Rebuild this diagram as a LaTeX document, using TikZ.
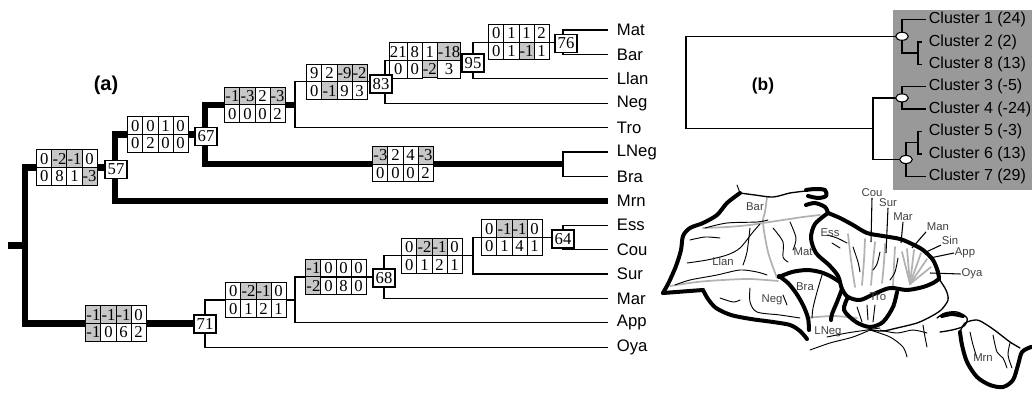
\documentclass[tikz,border=0pt]{standalone}
\usepackage{fontspec}
\setmainfont{Liberation Serif}
\newfontfamily\lsans{Liberation Sans}
\usetikzlibrary{matrix,shapes.geometric}
\begin{document}
\begin{tikzpicture}[x=0.75pt,y=-0.75pt,
  thn/.style={line width=0.95pt},
  thk/.style={line width=4.8pt},
  cell/.style={draw,line width=0.75pt,fill=white,minimum width=11.3pt,minimum height=13.2pt,inner sep=0pt,font=\fontsize{12.5}{12.5}\selectfont},
  neg/.style={fill=black!22},
  cbox/.style={matrix of nodes,nodes={cell},column sep=-0.75pt,row sep=-0.75pt,inner sep=0pt},
  nlab/.style={draw,line width=0.8pt,fill=white,minimum width=16.5pt,minimum height=13.5pt,inner sep=0.5pt,font=\fontsize{12.5}{12.5}\selectfont},
  leaf/.style={anchor=west,inner xsep=6.5pt,inner ysep=0pt,font=\lsans\fontsize{12.5}{12.5}\selectfont},
  clab/.style={anchor=west,inner xsep=2pt,inner ysep=0pt,font=\lsans\fontsize{12}{12}\selectfont},
  oval/.style={ellipse,draw,fill=white,line width=0.8pt,minimum width=9.5pt,minimum height=6pt,inner sep=0pt},
  bl/.style={line width=0.95pt},
  mthk/.style={line width=3pt,line join=round,line cap=round},
  mgray/.style={line width=1.3pt,black!30,line join=round,line cap=round},
  riv/.style={line width=0.7pt,line join=round,line cap=round},
  coast/.style={line width=1pt,line join=round,line cap=round},
  mlab/.style={font=\lsans\fontsize{8.5}{8.5}\selectfont,text=black!75,inner sep=0.5pt},
  leader/.style={line width=0.8pt},
  ptitle/.style={font=\lsans\bfseries\fontsize{15}{15}\selectfont}
]
\useasboundingbox (0,0) rectangle (1032,396);

% ---------------- panel (a) ----------------
\node[ptitle] (la) at (106,85) {(a)};

% leaves
\node[leaf] (Mat)  at (608,30)    {Mat};
\node[leaf] (Bar)  at (608,54.4)  {Bar};
\node[leaf] (Llan) at (608,78.8)  {Llan};
\node[leaf] (Neg)  at (608,103.2) {Neg};
\node[leaf] (Tro)  at (608,127.6) {Tro};
\node[leaf] (LNeg) at (608,152)   {LNeg};
\node[leaf] (Bra)  at (608,176.4) {Bra};
\node[leaf] (Mrn)  at (608,200.8) {Mrn};
\node[leaf] (Ess)  at (608,225.2) {Ess};
\node[leaf] (Cou)  at (608,249.6) {Cou};
\node[leaf] (Sur)  at (608,274)   {Sur};
\node[leaf] (Mar)  at (608,298.4) {Mar};
\node[leaf] (App)  at (608,322.8) {App};
\node[leaf] (Oya)  at (608,347.2) {Oya};

% internal junctions
\coordinate (stub) at (8,245.6);
\coordinate (root) at (25,245.6);
\coordinate (n57)  at (115,167.6);
\coordinate (n67)  at (205,134.5);
\coordinate (n295) at (295,104.7);
\coordinate (n83)  at (385,81.8);
\coordinate (n95)  at (473,60.4);
\coordinate (n76)  at (563,42.2);
\coordinate (nLB)  at (563,164.2);
\coordinate (n71)  at (205,323.6);
\coordinate (nB)   at (295,299.9);
\coordinate (n68)  at (384,277);
\coordinate (nC)   at (473,255.7);
\coordinate (n64)  at (563,237.4);

% thick branches
\draw[thk] (stub) -- (root);
\draw[thk] (root) |- (n57);
\draw[thk] (root) |- (n71);
\draw[thk] (n57) |- (n67);
\draw[thk] (n57) |- (Mrn.west);
\draw[thk] (n67) |- (n295);
\draw[thk] (n67) |- (nLB);
% thin branches
\draw[thn] (n295) |- (n83);
\draw[thn] (n295) |- (Tro.west);
\draw[thn] (n83) |- (n95);
\draw[thn] (n83) |- (Neg.west);
\draw[thn] (n95) |- (n76);
\draw[thn] (n95) |- (Llan.west);
\draw[thn] (n76) |- (Mat.west);
\draw[thn] (n76) |- (Bar.west);
\draw[thn] (nLB) |- (LNeg.west);
\draw[thn] (nLB) |- (Bra.west);
\draw[thn] (n71) |- (nB);
\draw[thn] (n71) |- (Oya.west);
\draw[thn] (nB) |- (n68);
\draw[thn] (nB) |- (App.west);
\draw[thn] (n68) |- (nC);
\draw[thn] (n68) |- (Mar.west);
\draw[thn] (nC) |- (n64);
\draw[thn] (nC) |- (Sur.west);
\draw[thn] (n64) |- (Ess.west);
\draw[thn] (n64) |- (Cou.west);

% character boxes
\matrix (b1) [cbox] at (67,167.6) {0 & |[neg]|-2 & |[neg]|-1 & 0\\ 0 & 8 & 1 & |[neg]|-3\\};
\matrix (b2) [cbox] at (158,134.5) {0 & 0 & 1 & 0\\ 0 & 2 & 0 & 0\\};
\matrix (b3) [cbox] at (255,104.7) {|[neg]|-1 & |[neg]|-3 & 2 & |[neg]|-3\\ 0 & 0 & 0 & 2\\};
\matrix (b4) [cbox] at (337,81.8) {9 & 2 & |[neg]|-9 & |[neg]|-2\\ 0 & |[neg]|-1 & 9 & 3\\};
\matrix (b5) [cbox,column 1/.style={nodes={minimum width=13.5pt}},column 4/.style={nodes={minimum width=17.5pt}}] at (425,60.4) {21 & 8 & 1 & |[neg]|-18\\ 0 & 0 & |[neg]|-2 & 3\\};
\matrix (b6) [cbox] at (519,42.2) {0 & 1 & 1 & 2\\ 0 & 1 & |[neg]|-1 & 1\\};
\matrix (b7) [cbox] at (403,164.2) {|[neg]|-3 & 2 & 4 & |[neg]|-3\\ 0 & 0 & 0 & 2\\};
\matrix (b8) [cbox] at (116,323.6) {|[neg]|-1 & |[neg]|-1 & |[neg]|-1 & 0\\ |[neg]|-1 & 0 & 6 & 2\\};
\matrix (b9) [cbox] at (256,299.9) {0 & |[neg]|-2 & |[neg]|-1 & 0\\ 0 & 1 & 2 & 1\\};
\matrix (b10) [cbox] at (336,277) {|[neg]|-1 & 0 & 0 & 0\\ |[neg]|-2 & 0 & 8 & 0\\};
\matrix (b11) [cbox] at (432,255.7) {0 & |[neg]|-2 & |[neg]|-1 & 0\\ 0 & 1 & 2 & 1\\};
\matrix (b12) [cbox] at (512,237.4) {0 & |[neg]|-1 & |[neg]|-1 & 0\\ 0 & 1 & 4 & 1\\};

% node support labels
\node[nlab] (s57) at (116,169.5) {57};
\node[nlab] (s67) at (206,136.5) {67};
\node[nlab] (s83) at (381,84) {83};
\node[nlab] (s95) at (473,63) {95};
\node[nlab] (s76) at (566,43.5) {76};
\node[nlab] (s71) at (205,324) {71};
\node[nlab] (s68) at (384,278) {68};
\node[nlab] (s64) at (563,239) {64};

% ---------------- panel (b) ----------------
\fill[black!40] (893,10) rectangle (1032,190);
\node[ptitle,font=\lsans\bfseries\fontsize{13}{13}\selectfont] (lb) at (763,86) {(b)};
\node[clab] (c1) at (926,19.5)  {Cluster 1 (24)};
\node[clab] (c2) at (926,41.9)  {Cluster 2 (2)};
\node[clab] (c8) at (926,64.3)  {Cluster 8 (13)};
\node[clab] (c3) at (926,86.7)  {Cluster 3 (-5)};
\node[clab] (c4) at (926,109.1) {Cluster 4 (-24)};
\node[clab] (c5) at (926,131.5) {Cluster 5 (-3)};
\node[clab] (c6) at (926,153.9) {Cluster 6 (13)};
\node[clab] (c7) at (926,176.3) {Cluster 7 (29)};

\coordinate (pA) at (902,36.3);
\coordinate (pB) at (902,97.9);
\coordinate (pC) at (906,159.5);
\coordinate (bRt) at (686,36.3);
\coordinate (bRb) at (686,128.7);
\coordinate (bM) at (873,128.7);
\coordinate (kA) at (918,53.1);
\coordinate (kC) at (918,142.7);
\coordinate (t2) at (922,41.9);
\coordinate (t8) at (922,64.3);
\coordinate (t5) at (922,131.5);
\coordinate (t6) at (922,153.9);

\draw[bl] (pA) -- (bRt) -- (bRb) -- (bM);
\draw[bl] (bM) |- (pB);
\draw[bl] (bM) |- (pC);
\draw[bl] (pA) |- (c1.west);
\draw[bl] (pA) |- (kA);
\draw[bl] (kA) |- (t2);
\draw[bl] (kA) |- (t8);
\draw[bl] (pB) |- (c3.west);
\draw[bl] (pB) |- (c4.west);
\draw[bl] (pC) |- (kC);
\draw[bl] (pC) |- (c7.west);
\draw[bl] (kC) |- (t5);
\draw[bl] (kC) |- (t6);
\node[oval] (oA) at (pA) {};
\node[oval] (oB) at (pB) {};
\node[oval] (oC) at (pC) {};

% ---------------- map ----------------
% gray sub-basin boundaries
\draw[mgray] plot[smooth,tension=0.5] coordinates {(703,228) (727,227) (750,225) (763,223) (783,220) (803,217) (820,215)};
\draw[mgray] plot[smooth,tension=0.5] coordinates {(767,197) (765,212) (763,223) (768,252) (777,278)};
\draw[mgray] plot[smooth,tension=0.5] coordinates {(670,286) (697,282) (723,280) (750,279) (778,281)};
\draw[mgray] plot[smooth,tension=0.5] coordinates {(806,318) (833,316) (857,318)};
\draw[mgray] plot[smooth,tension=0.5] coordinates {(848,234) (851,260) (855,287)};
\draw[mgray] plot[smooth,tension=0.5] coordinates {(865,239) (864,260) (862,285)};
\draw[mgray] plot[smooth,tension=0.5] coordinates {(875,242) (873,262) (871,285)};
\draw[mgray] plot[smooth,tension=0.5] coordinates {(885,244) (884,262) (882,283)};
\draw[mgray] plot[smooth,tension=0.5] coordinates {(895,247) (894,265) (893,286)};
\draw[mgray] (910,284) -- (902,252);
\draw[mgray] (910,284) -- (907,249);
\draw[mgray] (910,284) -- (914,250);
\draw[mgray] (910,284) -- (921,253);
\draw[mgray] (910,284) -- (927,259);
\draw[mgray] (910,284) -- (931,267);

% thin rivers
\draw[riv] plot[smooth,tension=0.5] coordinates {(705,228) (727,223) (757,222) (768,220)};
\draw[riv] plot[smooth,tension=0.5] coordinates {(687,263) (707,260) (727,255) (740,248) (753,232) (760,224)};
\draw[riv] plot[smooth,tension=0.5] coordinates {(675,285) (690,280) (717,275) (740,270) (757,272) (767,275)};
\draw[riv] plot[smooth,tension=0.5] coordinates {(690,240) (705,237) (720,238)};
\draw[riv] plot[smooth,tension=0.5] coordinates {(750,228) (747,252) (743,265)};
\draw[riv] plot[smooth,tension=0.5] coordinates {(773,228) (783,242) (783,257) (788,262)};
\draw[riv] plot[smooth,tension=0.5] coordinates {(790,222) (796,238) (793,250)};
\draw[riv] plot[smooth,tension=0.5] coordinates {(720,298) (733,302) (740,300)};
\draw[riv] plot[smooth,tension=0.5] coordinates {(750,288) (750,302) (757,312) (780,315) (800,318)};
\draw[riv] plot[smooth,tension=0.5] coordinates {(783,295) (787,305)};
\draw[riv] plot[smooth,tension=0.5] coordinates {(822,275) (817,292) (813,308) (812,318)};
\draw[riv] plot[smooth,tension=0.5] coordinates {(827,235) (837,238) (847,243)};
\draw[riv] plot[smooth,tension=0.5] coordinates {(832,243) (840,248)};
\draw[riv] plot[smooth,tension=0.5] coordinates {(853,247) (858,262) (860,272)};
\draw[riv] plot[smooth,tension=0.5] coordinates {(880,252) (877,264) (873,270)};
\draw[riv] plot[smooth,tension=0.5] coordinates {(898,258) (895,272) (890,280)};
\draw[riv] (857,307) -- (862,322);
\draw[riv] (867,305) -- (868,320);
\draw[riv] (875,305) -- (873,322);
\draw[riv] plot[smooth,tension=0.5] coordinates {(827,337) (847,333) (867,330) (880,328)};
\draw[riv] plot[smooth,tension=0.5] coordinates {(810,350) (830,343) (853,337) (870,330)};
\draw[riv] plot[smooth,tension=0.5] coordinates {(870,330) (890,337) (903,347) (907,357)};
\draw[riv] plot[smooth,tension=0.5] coordinates {(880,330) (897,333) (913,330) (927,333)};
\draw[riv] plot[smooth,tension=0.5] coordinates {(923,325) (925,337) (927,347)};
\draw[riv] plot[smooth,tension=0.5] coordinates {(970,332) (973,345) (977,358)};
\draw[riv] plot[smooth,tension=0.5] coordinates {(993,335) (997,352) (1003,358) (1007,368)};
\draw[riv] plot[smooth,tension=0.5] coordinates {(1010,343) (1008,355) (1012,368)};
\draw[riv] (737,185) -- (740,193);

% coast lines
\draw[coast] plot[smooth,tension=0.5] coordinates {(740,193) (755,195) (773,197) (790,193) (806,191)};
\draw[coast] plot[smooth,tension=0.5] coordinates {(939,279) (946,290) (948,300) (941,310) (930,317) (917,323) (897,328) (883,331) (870,330)};
\draw[coast] plot[smooth,tension=0.5] coordinates {(937,318) (945,313) (957,312) (967,318) (964,326) (952,330) (940,332)};
\draw[coast] plot[smooth,tension=0.5] coordinates {(960,332) (965,323) (977,320) (987,325) (997,332) (1010,342) (1020,348)};

% thick basin outlines
\draw[mthk] plot[smooth,tension=0.5] coordinates {(740,193) (727,203) (717,215) (703,223) (690,228) (683,236) (681,250) (676,266) (669,282) (663,293)};
\draw[mthk] (663,293) -- (703,290);
\draw[mthk] plot[smooth,tension=0.5] coordinates {(703,290) (708,299) (716,308) (731,315) (751,319) (773,322) (790,325) (800,331) (807,339)};
\draw[mthk] plot[smooth,tension=0.5] coordinates {(779,276) (788,283) (796,293) (803,305) (808,318) (809,330)};
\draw[mthk] plot[smooth,tension=0.5] coordinates {(779,277) (792,272) (807,270) (820,272) (830,276) (840,282)};
\draw[mthk] plot[smooth,tension=0.5] coordinates {(828,213) (815,224) (811,238) (816,253) (829,265) (838,276) (842,289) (848,297) (860,300) (874,294) (890,288) (907,290) (923,287) (933,283) (939,279)};
\draw[mthk] plot[smooth,tension=0.5] coordinates {(842,289) (837,302) (832,314) (831,320)};
\draw[mthk] plot[smooth,tension=0.5] coordinates {(848,297) (844,310) (856,322) (870,327) (883,322) (893,307) (897,292)};
\draw[mthk] plot[smooth,tension=0.5] coordinates {(828,213) (840,218) (853,225) (867,233) (883,236) (900,239) (912,244) (923,250) (933,260) (938,272) (939,279)};
\draw[mthk] plot[smooth,tension=0.5] coordinates {(806,190) (815,189) (825,190) (826,196) (818,198) (808,196)};
\draw[mthk] plot[smooth,tension=0.5] coordinates {(806,205) (815,203) (825,207) (828,213)};
\draw[mthk] plot[smooth,tension=0.5] coordinates {(942,316) (952,314) (963,316)};
\draw[mthk] plot[smooth,tension=0.5] coordinates {(960,332) (962,345) (967,362) (977,377) (990,385) (1003,387) (1013,380) (1018,365) (1022,352) (1031,347)};

% map labels
\node[mlab] (mBar)  at (755,207) {Bar};
\node[mlab] (mLlan) at (723,261) {Llan};
\node[mlab] (mMat)  at (803,252) {Mat};
\node[mlab] (mEss)  at (830,233) {Ess};
\node[mlab] (mBra)  at (805,287) {Bra};
\node[mlab] (mNeg)  at (772,300) {Neg};
\node[mlab] (mLNeg) at (828,332) {LNeg};
\node[mlab] (mTro)  at (878,297) {Tro};
\node[mlab] (mCou)  at (872,193) {Cou};
\node[mlab] (mSur)  at (888,203) {Sur};
\node[mlab] (mMar)  at (903,217) {Mar};
\node[mlab] (mMan)  at (938,227) {Man};
\node[mlab] (mSin)  at (950,240) {Sin};
\node[mlab] (mApp)  at (965,253) {App};
\node[mlab] (mOya)  at (972,274) {Oya};
\node[mlab] (mMrn)  at (983,358) {Mrn};

\coordinate (eCou) at (871,242);
\coordinate (eSur) at (886,253);
\coordinate (eMar) at (901,243);
\coordinate (eMan) at (912,248);
\coordinate (eSin) at (924,253);
\coordinate (eApp) at (930,258);
\coordinate (eOya) at (930,273);
\draw[leader] (mCou.south) -- (eCou);
\draw[leader] (mSur.south) -- (eSur);
\draw[leader] (mMar.south) -- (eMar);
\draw[leader] (mMan.south west) -- (eMan);
\draw[leader] (mSin.south west) -- (eSin);
\draw[leader] (mApp.west) -- (eApp);
\draw[leader] (mOya.west) -- (eOya);
\end{tikzpicture}
\end{document}
